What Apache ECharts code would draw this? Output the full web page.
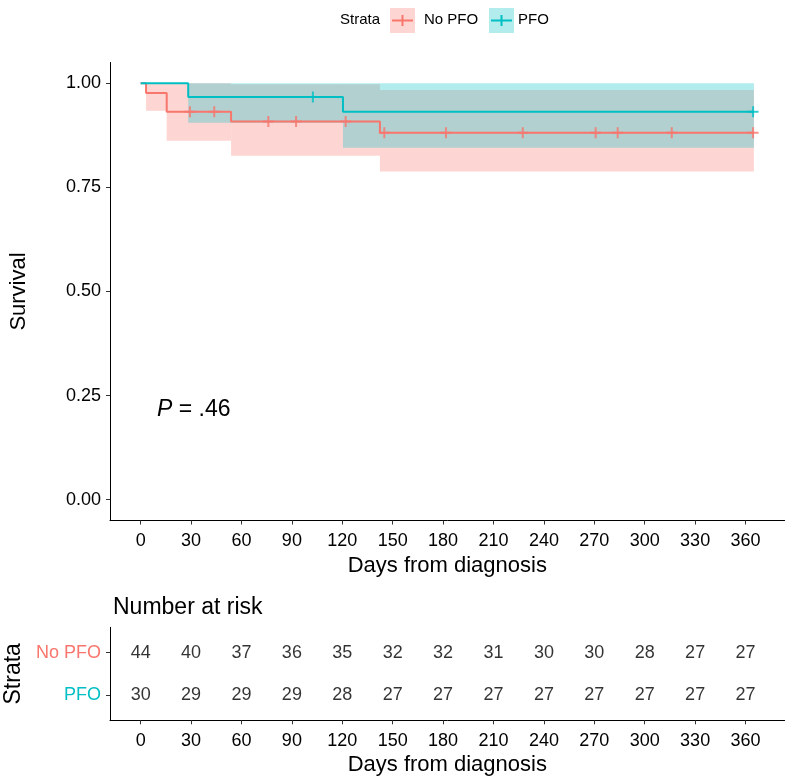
<!DOCTYPE html>
<html>
<head>
<meta charset="utf-8">
<script src="https://cdn.jsdelivr.net/npm/echarts@6/dist/echarts.min.js"></script>
<style>
  html, body { margin: 0; padding: 0; background: #fff; }
  #chart { width: 792px; height: 784px; }
</style>
</head>
<body>
<div id="chart"></div>
<script>
// KM steps (days, survival)
var noPfoTimes = [0, 3.2, 15.5, 53.8, 142.4, 365];
var noPfoSurv = [1, 0.977, 0.932, 0.908, 0.881, 0.881];
var pfoTimes = [0, 28.3, 120.4, 365];
var pfoSurv = [1, 0.967, 0.932, 0.932];

// censored patients
var noPfoCensorDays = [29.3, 43.8, 76, 92.5, 122, 145, 181.7, 227.4, 270.8, 283.9, 316.1, 364.5];
var noPfoCensorSurv = [0.932, 0.932, 0.908, 0.908, 0.908, 0.881, 0.881, 0.881, 0.881, 0.881, 0.881, 0.881];
var pfoCensorDays = [102.5, 364.5];
var pfoCensorSurv = [0.967, 0.932];

// 95% CI: [from, to, lower, upper]
var noPfoBand = [[3.2, 15.5, 0.934, 1], [15.5, 53.8, 0.862, 1], [53.8, 142.4, 0.826, 0.998], [142.4, 365, 0.788, 0.984]];
var pfoBand = [[28.3, 120.4, 0.905, 1], [120.4, 365, 0.845, 1]];

// number at risk
var riskDays = [0, 30, 60, 90, 120, 150, 180, 210, 240, 270, 300, 330, 360];
var noPfoRisk = [44, 40, 37, 36, 35, 32, 32, 31, 30, 30, 28, 27, 27];
var pfoRisk = [30, 29, 29, 29, 28, 27, 27, 27, 27, 27, 27, 27, 27];

var survTicks = [0, 0.25, 0.5, 0.75, 1];

var RED = '#F8766D', TEAL = '#00BFC4';
var RED_FILL = 'rgba(248,118,109,0.3)', TEAL_FILL = 'rgba(0,191,196,0.3)';
var FONT = 'Liberation Sans';
var PLUS = 'path://M4.5,0h2v4.5h4.5v2h-4.5v4.5h-2v-4.5h-4.5v-2h4.5z';

function zip(a, b) { return a.map(function (v, i) { return [v, b[i]]; }); }

function bandSeries(data, fill) {
  return {
    type: 'custom', xAxisIndex: 0, yAxisIndex: 0, data: data, silent: true,
    renderItem: function (params, api) {
      var p0 = api.coord([api.value(0), api.value(3)]);
      var p1 = api.coord([api.value(1), api.value(2)]);
      return { type: 'rect', shape: { x: p0[0], y: p0[1], width: p1[0] - p0[0], height: p1[1] - p0[1] }, style: { fill: fill } };
    }
  };
}

function xAxisCfg(idx) {
  return {
    gridIndex: idx, type: 'value', min: -18.25, max: 383.25,
    axisLine: { onZero: false, lineStyle: { color: '#000', width: 1 } },
    axisTick: { customValues: riskDays, length: 4, lineStyle: { color: '#333' } },
    axisLabel: { customValues: riskDays, fontSize: 18, color: '#000', margin: 12, fontFamily: FONT },
    splitLine: { show: false },
    name: 'Days from diagnosis', nameLocation: 'middle', nameGap: 34,
    nameTextStyle: { fontSize: 22, color: '#000', fontFamily: FONT }
  };
}

function legendKey(x, fill, color) {
  return [
    { type: 'rect', shape: { x: x, y: 8, width: 25, height: 25 }, style: { fill: fill } },
    { type: 'line', shape: { x1: x + 2, y1: 20.5, x2: x + 23, y2: 20.5 }, style: { stroke: color, lineWidth: 2 } },
    { type: 'line', shape: { x1: x + 12.5, y1: 15, x2: x + 12.5, y2: 26 }, style: { stroke: color, lineWidth: 2 } }
  ];
}

var chart = echarts.init(document.getElementById('chart'));

var option = {
  animation: false,
  textStyle: { fontFamily: FONT },
  grid: [
    { left: 110, right: 7.4, top: 62.5, height: 458, containLabel: false, outerBoundsMode: 'none' },
    { left: 110, right: 7.4, top: 627.3, height: 93, containLabel: false, outerBoundsMode: 'none' }
  ],
  xAxis: [xAxisCfg(0), xAxisCfg(1)],
  yAxis: [{
    gridIndex: 0, type: 'value', min: -0.05, max: 1.05,
    axisLine: { show: true, onZero: false, lineStyle: { color: '#000', width: 1 } },
    axisTick: { show: true, customValues: survTicks, length: 4, lineStyle: { color: '#333' } },
    axisLabel: { customValues: survTicks, fontSize: 18, color: '#000', margin: 9, fontFamily: FONT,
      formatter: function (v) { return v.toFixed(2); } },
    splitLine: { show: false },
    name: 'Survival', nameLocation: 'middle', nameGap: 80,
    nameTextStyle: { fontSize: 22, color: '#000', fontFamily: FONT }
  }, {
    gridIndex: 1, type: 'value', min: 0.4, max: 2.6,
    axisLine: { show: true, onZero: false, lineStyle: { color: '#000', width: 1 } },
    axisTick: { show: true, customValues: [1, 2], length: 4, lineStyle: { color: '#333' } },
    axisLabel: { customValues: [1, 2], margin: 9,
      formatter: function (v) { return v === 2 ? '{a|No PFO}' : '{b|PFO}'; },
      rich: {
        a: { color: RED, fontSize: 18, fontFamily: FONT },
        b: { color: TEAL, fontSize: 18, fontFamily: FONT }
      } },
    splitLine: { show: false },
    name: 'Strata', nameLocation: 'middle', nameGap: 76,
    nameTextStyle: { fontSize: 23, color: '#000', fontFamily: FONT }
  }],
  series: [
    { type: 'line', xAxisIndex: 0, yAxisIndex: 0, step: 'end', showSymbol: false,
      data: zip(noPfoTimes, noPfoSurv), lineStyle: { color: RED, width: 2 } },
    { type: 'line', xAxisIndex: 0, yAxisIndex: 0, step: 'end', showSymbol: false,
      data: zip(pfoTimes, pfoSurv), lineStyle: { color: TEAL, width: 2 } },
    bandSeries(noPfoBand, RED_FILL),
    bandSeries(pfoBand, TEAL_FILL),
    { type: 'scatter', xAxisIndex: 0, yAxisIndex: 0, symbol: PLUS, symbolSize: 11,
      data: zip(noPfoCensorDays, noPfoCensorSurv), itemStyle: { color: RED } },
    { type: 'scatter', xAxisIndex: 0, yAxisIndex: 0, symbol: PLUS, symbolSize: 11,
      data: zip(pfoCensorDays, pfoCensorSurv), itemStyle: { color: TEAL } },
    { type: 'scatter', xAxisIndex: 1, yAxisIndex: 1, symbolSize: 1, itemStyle: { color: 'rgba(0,0,0,0)' },
      data: riskDays.map(function (d, i) { return [d, 2, noPfoRisk[i]]; }),
      label: { show: true, position: 'inside', fontSize: 18, color: '#000', fontFamily: FONT,
        formatter: function (p) { return p.value[2]; } } },
    { type: 'scatter', xAxisIndex: 1, yAxisIndex: 1, symbolSize: 1, itemStyle: { color: 'rgba(0,0,0,0)' },
      data: riskDays.map(function (d, i) { return [d, 1, pfoRisk[i]]; }),
      label: { show: true, position: 'inside', fontSize: 18, color: '#000', fontFamily: FONT,
        formatter: function (p) { return p.value[2]; } } }
  ],
  graphic: [
    { type: 'text', left: 340, top: 12, style: { text: 'Strata', fontSize: 15, fontFamily: FONT, fill: '#000' } }
  ].concat(legendKey(390, RED_FILL, RED), [
    { type: 'text', left: 424, top: 12, style: { text: 'No PFO', fontSize: 15, fontFamily: FONT, fill: '#000' } }
  ], legendKey(489, TEAL_FILL, TEAL), [
    { type: 'text', left: 518, top: 12, style: { text: 'PFO', fontSize: 15, fontFamily: FONT, fill: '#000' } },
    { type: 'text', left: 157, top: 398, style: {
      text: '{i|P} = .46', fontSize: 23, fontFamily: FONT, fill: '#000',
      rich: { i: { fontStyle: 'italic', fontSize: 23, fontFamily: FONT } } } },
    { type: 'text', left: 113, top: 596, style: { text: 'Number at risk', fontSize: 23, fontFamily: FONT, fill: '#000' } }
  ])
};

chart.setOption(option);
</script>
</body>
</html>
